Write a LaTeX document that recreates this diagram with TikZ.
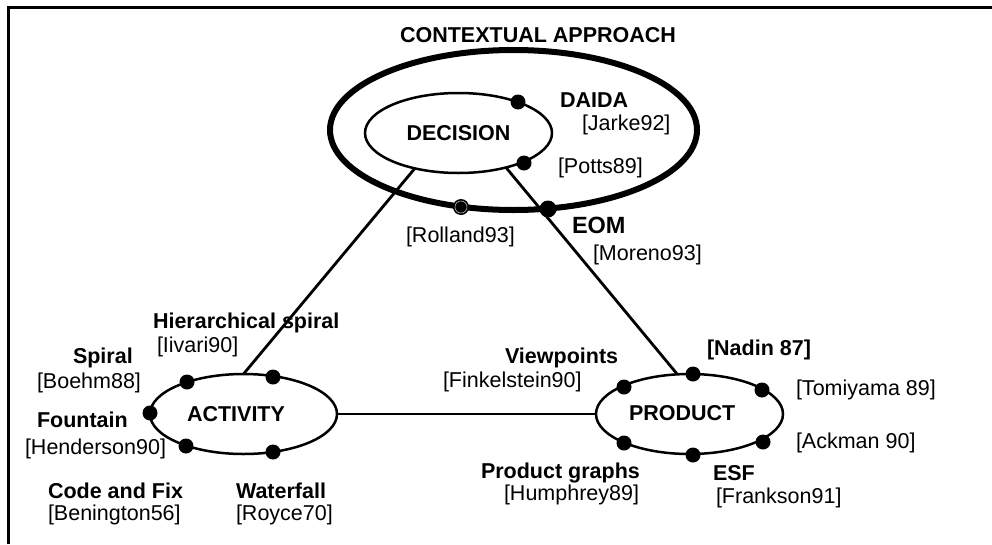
\documentclass[tikz,border=0pt]{standalone}
\usepackage{fontspec}
\setmainfont{Liberation Sans}
\usetikzlibrary{shapes.geometric}
\begin{document}
\begin{tikzpicture}[x=1pt,y=-1pt,
  lab/.style={anchor=base west, inner sep=0pt, outer sep=0pt, font=\fontsize{21.5}{25}\selectfont},
  blab/.style={lab, font=\fontsize{21.5}{25}\selectfont\bfseries},
  oval/.style={ellipse, draw, line width=2.5pt, inner sep=0pt, outer sep=0pt, minimum width=187pt, minimum height=80pt},
  dot/.style={circle, fill, inner sep=0pt, outer sep=0pt, minimum size=15pt},
  link/.style={line width=2.8pt}]
\fill[white] (0,0) rectangle (992,544);
\useasboundingbox (0,0) rectangle (992,544);
% frame
\draw[line width=3pt] (8.5,544) |- (992,7.5);

% title
\node[blab, anchor=base] (title) at (538,42) {CONTEXTUAL APPROACH};

% ellipses
\node[ellipse, draw, line width=6pt, inner sep=0pt, outer sep=0pt, minimum width=367pt, minimum height=160pt] (ctx) at (513.5,130) {};
\node[oval, font=\fontsize{21.5}{25}\selectfont\bfseries] (dec) at (458.5,133) {DECISION};
\node[oval] (act) at (243.5,414) {};
\node[oval] (prod) at (689.5,414) {};
\node[blab] (actlab) at (187,421) {ACTIVITY};
\node[blab] (prodlab) at (629,420) {PRODUCT};

% connectors
\draw[link] (dec.219) -- (act.90);
\draw[link] (dec.324) -- (prod.107);
\draw[link] (act.east) -- (prod.west);

% dots
\node[dot] (d1) at (518,102) {};
\node[dot] (d2) at (524,163) {};
\node[dot, minimum size=16pt] (d3) at (461,207) {};
\draw[gray!60, line width=0.6pt] (d3.center) circle[radius=6pt];
\node[dot, minimum size=17pt] (d4) at (548,209) {};
\node[dot] (a1) at (187,382) {};
\node[dot] (a2) at (273,377) {};
\node[dot] (a3) at (150,413) {};
\node[dot] (a4) at (186,446) {};
\node[dot] (a5) at (273,452) {};
\node[dot] (p1) at (624,387) {};
\node[dot] (p2) at (693,374) {};
\node[dot] (p3) at (762,390) {};
\node[dot] (p4) at (624,443) {};
\node[dot] (p5) at (693,455) {};
\node[dot] (p6) at (763,442) {};

% labels near decision
\node[blab] (daida) at (560,107) {DAIDA};
\node[lab] (jarke) at (582,130) {[Jarke92]};
\node[lab] (potts) at (558,173) {[Potts89]};
\node[lab] (rolland) at (406,242) {[Rolland93]};
\node[lab, font=\fontsize{23.5}{27}\selectfont\bfseries] (eom) at (572,233) {EOM};
\node[lab] (moreno) at (593,260) {[Moreno93]};

% labels near activity
\node[blab] (hier) at (153,328) {Hierarchical spiral};
\node[lab] (iivari) at (157,352) {[Iivari90]};
\node[blab] (spiral) at (73,363) {Spiral};
\node[lab] (boehm) at (37,388) {[Boehm88]};
\node[blab] (fountain) at (37,427) {Fountain};
\node[lab] (henderson) at (25,454) {[Henderson90]};
\node[blab] (codefix) at (48,498) {Code and Fix};
\node[lab] (benington) at (48,520) {[Benington56]};
\node[blab] (waterfall) at (236,498) {Waterfall};
\node[lab] (royce) at (236,520) {[Royce70]};

% labels near product
\node[blab] (viewpoints) at (505,363) {Viewpoints};
\node[lab] (finkelstein) at (443,387) {[Finkelstein90]};
\node[blab] (nadin) at (707,355) {[Nadin 87]};
\node[lab] (tomiyama) at (796,395) {[Tomiyama 89]};
\node[lab] (ackman) at (796,448) {[Ackman 90]};
\node[blab] (prodgraphs) at (481,478) {Product graphs};
\node[lab] (humphrey) at (504,500) {[Humphrey89]};
\node[blab] (esf) at (713,480) {ESF};
\node[lab] (frankson) at (716,503) {[Frankson91]};
\end{tikzpicture}
\end{document}
